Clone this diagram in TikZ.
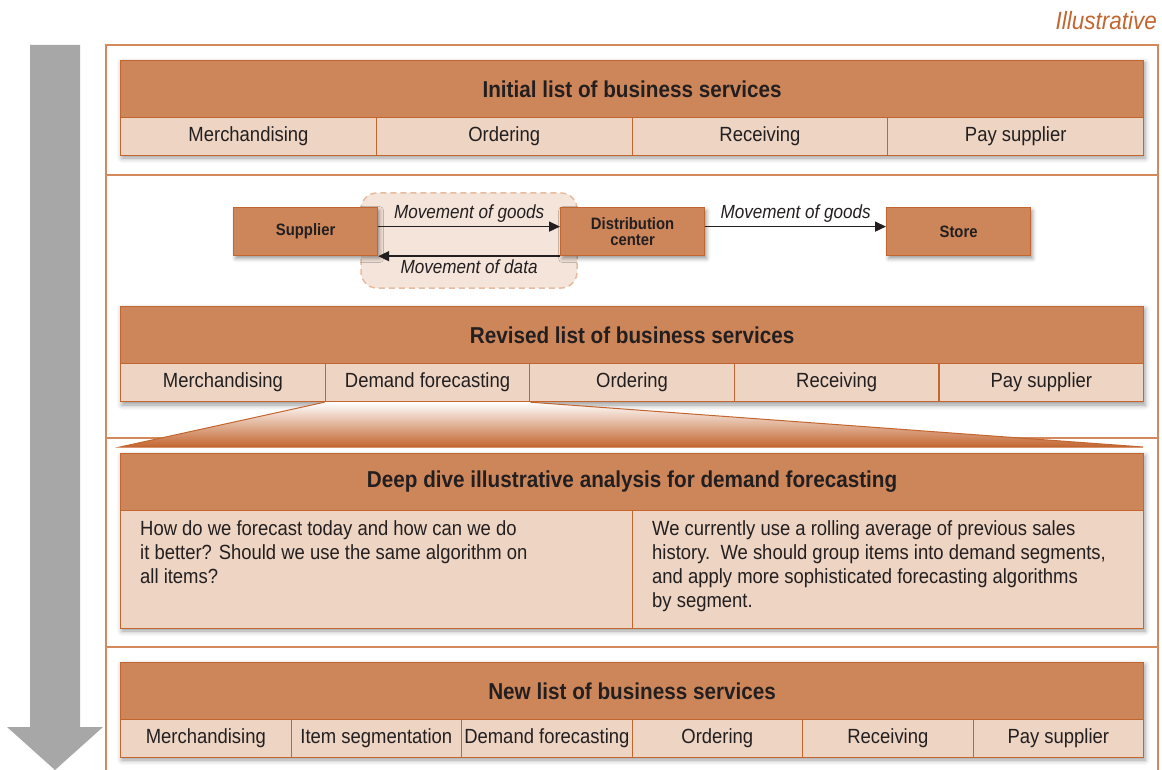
\documentclass[tikz,border=0pt]{standalone}
\usepackage{fontspec}
\setmainfont{Liberation Sans}[FakeStretch=0.9]
\usetikzlibrary{arrows.meta,shadows.blur}

\definecolor{hdrfill}{HTML}{CD8659}
\definecolor{cellfill}{HTML}{EDD4C3}
\definecolor{bdr}{HTML}{C3652F}
\definecolor{framecol}{HTML}{D4895C}
\definecolor{ink}{HTML}{231F20}
\definecolor{dashfill}{HTML}{F4E4D9}
\definecolor{dashline}{HTML}{E6BB9F}
\definecolor{flowgray}{HTML}{A7A7A7}

\tikzset{
  hdr/.style={draw=bdr, line width=1.2pt, fill=hdrfill, text=ink, inner sep=0,
    minimum width=1023, minimum height=57, anchor=north west,
    font=\fontsize{23}{26}\selectfont\bfseries},
  cell/.style={draw=bdr, line width=1.2pt, fill=cellfill, text=ink, inner sep=0,
    minimum height=38, anchor=north west, font=\fontsize{20.5}{24}\selectfont},
  flowbox/.style={draw=bdr, line width=1.2pt, fill=hdrfill, text=ink, inner sep=0,
    minimum width=144, minimum height=48, anchor=north west, align=center,
    font=\fontsize{16.5}{16}\selectfont\bfseries,
    blur shadow={shadow xshift=2pt, shadow yshift=-3pt, shadow blur radius=4pt, shadow opacity=40}},
  flowlbl/.style={text=ink, font=\fontsize{19}{22}\selectfont\itshape, inner sep=3pt},
  flow/.style={-{Triangle[length=11pt,width=10pt]}, line width=1.5pt, draw=ink},
  blockshadow/.style={fill=white,
    blur shadow={shadow xshift=2pt, shadow yshift=-3pt, shadow blur radius=5pt, shadow opacity=40}},
  divider/.style={draw=framecol, line width=1.3pt},
  bodytext/.style={anchor=north west, align=left, inner sep=0, text=ink,
    font=\fontsize{20.5}{24}\selectfont}
}

\begin{document}
\begin{tikzpicture}[x=1pt,y=-1pt]
  \useasboundingbox (0,0) rectangle (1162,770);

  % frame and section lines
  \draw[divider] (106,772) -- (106,45) -- (1158,45) -- (1158,772);
  \foreach \y in {175,438,647}
    \draw[divider] (106,\y) -- (1158,\y);

  % big gray arrow on the left
  \fill[flowgray] (30,45) -- (80,45) -- (80,727) -- (103,727) -- (55,770)
    -- (7,727) -- (30,727) -- cycle;

  \node[anchor=base east, inner sep=0, text=bdr, font=\fontsize{25}{28}\selectfont\itshape]
    (tag) at (1157,30) {Illustrative};

  % initial list
  \path[blockshadow] (120,60) rectangle (1143,155);
  \node[hdr] (initial) at (120,60) {Initial list of business services};
  \foreach \t [count=\i] in {Merchandising,Ordering,Receiving,Pay supplier}
    \node[cell, minimum width=255.75] (i\i) at ({120+(\i-1)*255.75},117) {\t};

  % flow of goods and data
  \draw[dashline, fill=dashfill, line width=1.5pt, dash pattern=on 6pt off 4pt,
    rounded corners=16pt] (361,193) rectangle (577,288);
  \node[flowbox] (sup) at (233,207) {Supplier};
  \node[flowbox] (dc) at (560,207) {Distribution\\center};
  \node[flowbox] (store) at (886,207) {Store};
  \draw[flow] ([yshift=5pt]sup.east) -- node[flowlbl, above] (lg1) {Movement of goods} ([yshift=5pt]dc.west);
  \draw[flow] (dc.south west) -- node[flowlbl, below] (ld) {Movement of data} (sup.south east);
  \draw[flow] ([yshift=5pt]dc.east) -- node[flowlbl, above] (lg2) {Movement of goods} ([yshift=5pt]store.west);

  % revised list
  \path[blockshadow] (120,306) rectangle (1143,402);
  \node[hdr] (revised) at (120,306) {Revised list of business services};
  \foreach \t [count=\i] in {Merchandising,Demand forecasting,Ordering,Receiving,Pay supplier}
    \node[cell, minimum width=204.6] (r\i) at ({120+(\i-1)*204.6},363) {\t};

  % zoom into demand forecasting
  \shade[top color=white, bottom color=bdr] (r2.south west) -- (r2.south east)
    -- (1143,447) -- (120,447) -- cycle;
  \draw[bdr, line width=1pt] (r2.south west) -- (120,447) -- (1143,447) -- (r2.south east);

  % deep dive
  \path[blockshadow] (120,453) rectangle (1143,628);
  \node[hdr] (deepdive) at (120,453) {Deep dive illustrative analysis for demand forecasting};
  \node[cell, minimum width=511.5, minimum height=118] (q) at (120,510) {};
  \node[cell, minimum width=511.5, minimum height=118] (ans) at (631.5,510) {};
  \node[bodytext] (qtext) at (140,520) {How do we forecast today and how can we do\\
    it better? Should we use the same algorithm on\\all items?};
  \node[bodytext] (atext) at (652,520) {We currently use a rolling average of previous sales\\
    history.\ \ We should group items into demand segments,\\
    and apply more sophisticated forecasting algorithms\\by segment.};

  % new list
  \path[blockshadow] (120,662) rectangle (1143,757);
  \node[hdr] (newlist) at (120,662) {New list of business services};
  \foreach \t [count=\i] in {Merchandising,Item segmentation,Demand forecasting,Ordering,Receiving,Pay supplier}
    \node[cell, minimum width=170.5] (n\i) at ({120+(\i-1)*170.5},719) {\t};
\end{tikzpicture}
\end{document}
